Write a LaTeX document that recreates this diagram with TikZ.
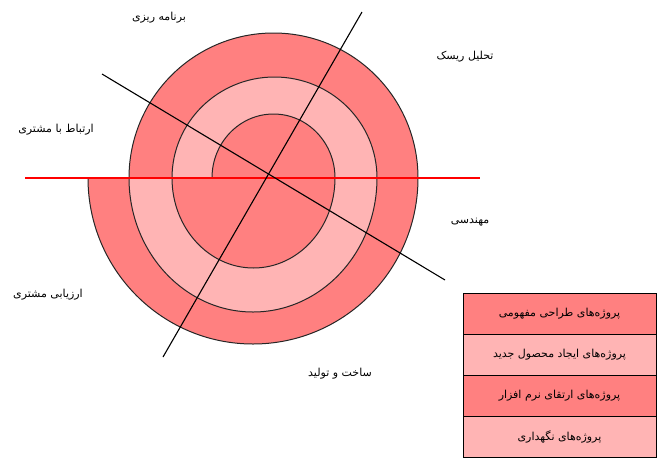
\documentclass[tikz,border=0pt]{standalone}
\usepackage{fontspec}
\newfontfamily\farsi[Script=Arabic]{DejaVu Sans}
\TeXXeTstate=1
\usetikzlibrary{positioning}
\definecolor{ringdark}{RGB}{255,128,128}
\definecolor{ringlight}{RGB}{255,180,180}
\newcommand{\rtl}[1]{\beginR #1\endR}

\begin{document}
\begin{tikzpicture}[x=1pt,y=-1pt,node distance=41pt,on grid,
  every node/.style={font=\farsi\fontsize{11}{13}\selectfont},
  phase/.style={inner sep=1pt},
  key/.style={draw,outer sep=0pt,minimum width=193pt,minimum height=41pt},
  rim/.style={line width=1pt,draw=black!85},
  cut/.style={line width=1.1pt}]
  \useasboundingbox (0,0) rectangle (657,459);
  % lower halves
  \fill[ringdark] (88,178) arc[start angle=180,end angle=0,x radius=165,y radius=166] -- cycle;
  \fill[ringlight] (129,178) arc[start angle=180,end angle=0,x radius=124,y radius=134] -- cycle;
  \fill[ringdark] (172,178) arc[start angle=180,end angle=0,x radius=81.5,y radius=90] -- cycle;
  % upper halves
  \fill[ringdark] (129,178) arc[start angle=180,end angle=360,x radius=144.5,y radius=145] -- cycle;
  \fill[ringlight] (172,178) arc[start angle=180,end angle=360,x radius=102.5,y radius=101] -- cycle;
  \fill[ringdark] (212,178) arc[start angle=180,end angle=360,x radius=61.5,y radius=64] -- cycle;
  \draw[rim] (88,178) arc[start angle=180,end angle=0,x radius=165,y radius=166];
  \draw[rim] (129,178) arc[start angle=180,end angle=0,x radius=124,y radius=134];
  \draw[rim] (172,178) arc[start angle=180,end angle=0,x radius=81.5,y radius=90];
  \draw[rim] (129,178) arc[start angle=180,end angle=360,x radius=144.5,y radius=145];
  \draw[rim] (172,178) arc[start angle=180,end angle=360,x radius=102.5,y radius=101];
  \draw[rim] (212,178) arc[start angle=180,end angle=360,x radius=61.5,y radius=64];

  \coordinate (wEnd) at (25,178);
  \coordinate (eEnd) at (480,178);
  \coordinate (nwEnd) at (102,74);
  \coordinate (seEnd) at (445,280);
  \coordinate (neEnd) at (362,12);
  \coordinate (swEnd) at (163,357);
  \draw[cut,red] (wEnd) -- (eEnd);
  \draw[cut] (nwEnd) -- (seEnd);
  \draw[cut] (neEnd) -- (swEnd);

  \node[phase] (plan) at (159,18) {\rtl{برنامه ریزی}};
  \node[phase] (risk) at (465,57) {\rtl{تحلیل ریسک}};
  \node[phase] (talk) at (56,130) {\rtl{ارتباط با مشتری}};
  \node[phase] (eng) at (470,222) {\rtl{مهندسی}};
  \node[phase] (eval) at (48,295) {\rtl{ارزیابی مشتری}};
  \node[phase] (build) at (340,374) {\rtl{ساخت و تولید}};

  \node[key,fill=ringdark] (k1) at (559.5,313.5) {\rtl{پروژه‌های طراحی مفهومی}};
  \node[key,fill=ringlight] (k2) [below=of k1] {\rtl{پروژه‌های ایجاد محصول جدید}};
  \node[key,fill=ringdark] (k3) [below=of k2] {\rtl{پروژه‌های ارتقای نرم افزار}};
  \node[key,fill=ringlight] (k4) [below=of k3] {\rtl{پروژه‌های نگهداری}};
\end{tikzpicture}
\end{document}
